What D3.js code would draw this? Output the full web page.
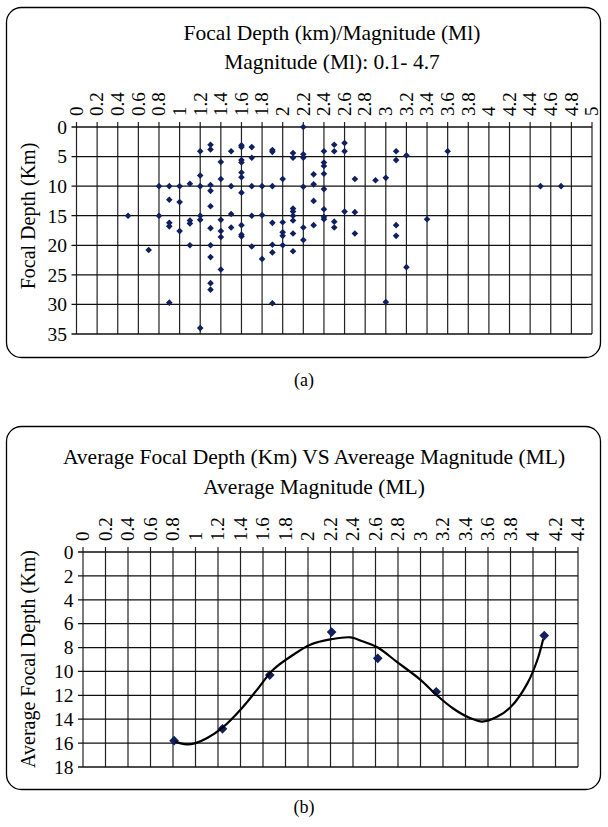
<!DOCTYPE html>
<html>
<head>
<meta charset="utf-8">
<script src="https://cdn.jsdelivr.net/npm/d3@7"></script>
<style>
  html, body { margin: 0; padding: 0; background: #fff; }
  svg text { font-family: "Liberation Serif", "Times New Roman", serif; fill: #000; }
</style>
</head>
<body>
<svg id="chart" width="608" height="827"></svg>
<script>
// (a) every event: magnitude (Ml) and focal depth (km)
const topMagnitude = [
  0.5, 0.7, 0.8, 0.8,
  0.9, 0.9, 0.9, 0.9, 0.9,
  1.0, 1.0, 1.0,
  1.1, 1.1, 1.1, 1.1,
  1.2, 1.2, 1.2, 1.2, 1.2, 1.2,
  1.3, 1.3, 1.3, 1.3, 1.3, 1.3, 1.3, 1.3, 1.3, 1.3,
  1.4, 1.4, 1.4, 1.4, 1.4, 1.4,
  1.5, 1.5, 1.5, 1.5,
  1.6, 1.6, 1.6, 1.6, 1.6, 1.6, 1.6, 1.6, 1.6, 1.6,
  1.7, 1.7, 1.7, 1.7, 1.7,
  1.8, 1.8, 1.8,
  1.9, 1.9, 1.9, 1.9, 1.9, 1.9, 1.9,
  2.0, 2.0, 2.0, 2.0, 2.0,
  2.1, 2.1, 2.1, 2.1, 2.1, 2.1, 2.1, 2.1,
  2.2, 2.2, 2.2, 2.2, 2.2, 2.2,
  2.3, 2.3, 2.3, 2.3,
  2.4, 2.4, 2.4, 2.4, 2.4, 2.4, 2.4, 2.4,
  2.5, 2.5, 2.5, 2.5,
  2.6, 2.6, 2.6,
  2.7, 2.7, 2.7,
  2.9, 3.0, 3.0,
  3.1, 3.1, 3.1, 3.1,
  3.2, 3.2, 3.4, 3.6, 4.5, 4.7
];
const topDepth = [
  15, 20.8, 10, 15,
  10, 12.3, 16.2, 16.8, 29.7,
  10, 12.7, 17.6,
  9.6, 15.8, 16.3, 20,
  4.1, 8.2, 10, 15, 15.7, 34,
  3.0, 3.8, 9.8, 10.8, 13.4, 17.1, 20, 22, 26.4, 27.5,
  5.9, 8.8, 15.7, 17.6, 18.6, 24.1,
  4.1, 10, 14.7, 17,
  3.1, 3.4, 5.6, 6.0, 7.7, 8.5, 11.1, 16.6, 18.2, 18.5,
  3.4, 5.2, 10, 15, 20.2,
  10, 14.9, 22.3,
  3.9, 4.2, 10, 16.2, 19.9, 21.2, 29.8,
  8.8, 16.1, 17.8, 18.4, 20,
  4.4, 5.2, 13.8, 14.3, 15, 15.8, 18.0, 21.0,
  0, 4.6, 5.2, 10.1, 17.0, 19.1,
  8.0, 9.7, 12.5, 16.6,
  4.1, 6.0, 6.6, 7.9, 10.5, 13.9, 15.2, 15.6,
  3.0, 4.1, 16.0, 17.0,
  2.7, 4.1, 14.3,
  8.8, 14.4, 18.0,
  9.0, 8.6, 29.6,
  4.1, 5.6, 16.6, 18.4,
  4.8, 23.7, 15.6, 4.1, 10, 10
];

// (b) averages per magnitude class
const avgMagnitude = [0.81, 1.24, 1.66, 2.21, 2.62, 3.14, 4.1];
const avgDepth = [15.8, 14.8, 10.3, 6.7, 8.9, 11.7, 7.0];

// (b) trend line
const trendMagnitude = [0.82, 0.92, 1.0, 1.1, 1.24, 1.4, 1.55, 1.69, 1.87, 2.02, 2.21, 2.38, 2.49, 2.62, 2.79, 3.0, 3.14, 3.29, 3.44, 3.55, 3.68, 3.81, 3.95, 4.04, 4.09];
const trendDepth = [15.9, 16.1, 16.0, 15.6, 14.7, 13.2, 11.5, 9.86, 8.6, 7.76, 7.3, 7.15, 7.5, 8.0, 9.2, 10.7, 11.95, 13.1, 13.9, 14.2, 13.8, 12.9, 11.0, 9.0, 7.3];

// tick values
const topXTicks = d3.range(0, 26).map(i => i * 0.2);
const topYTicks = [0, 5, 10, 15, 20, 25, 30, 35];
const botXTicks = d3.range(0, 23).map(i => i * 0.2);
const botYTicks = [0, 2, 4, 6, 8, 10, 12, 14, 16, 18];

const markColor = '#10205e';
const fmt = v => String(+v.toFixed(1));

const svg = d3.select('#chart');

function panel(opt)
{
    let g = svg.append('g');

    // rounded frame
    g.append('rect')
        .attr('x', 6.5).attr('y', opt.boxTop + 0.5)
        .attr('width', 594).attr('height', opt.boxH)
        .attr('rx', 15).attr('ry', 15)
        .attr('fill', 'none').attr('stroke', '#000').attr('stroke-width', 1.3);

    g.append('text')
        .attr('x', opt.titleX).attr('y', opt.titleY)
        .attr('text-anchor', 'middle').style('font-size', '21.5px')
        .text(opt.title);

    g.append('text')
        .attr('x', opt.titleX).attr('y', opt.subY)
        .attr('text-anchor', 'middle').style('font-size', '21.5px')
        .text(opt.subtitle);

    let x = d3.scaleLinear().domain(opt.xDomain).range(opt.xRange);
    let y = d3.scaleLinear().domain(opt.yDomain).range(opt.yRange);

    // grid
    g.append('g').selectAll('line').data(opt.xTicks).join('line')
        .attr('x1', d => x(d)).attr('x2', d => x(d))
        .attr('y1', y.range()[0] - 5).attr('y2', y.range()[1])
        .attr('stroke', '#222').attr('stroke-width', 1.2);

    g.append('g').selectAll('line').data(opt.yTicks).join('line')
        .attr('x1', x.range()[0] - 5).attr('x2', x.range()[1])
        .attr('y1', d => y(d)).attr('y2', d => y(d))
        .attr('stroke', '#111').attr('stroke-width', 1.3);

    // x tick labels (rotated)
    g.append('g').selectAll('text').data(opt.xTicks).join('text')
        .attr('transform', d => 'translate(' + x(d) + ',' + (y.range()[0] - 11) + ') rotate(-90)')
        .attr('dy', '0.33em')
        .style('font-size', '19px')
        .text(fmt);

    // y tick labels
    g.append('g').selectAll('text').data(opt.yTicks).join('text')
        .attr('x', x.range()[0] - 9.5).attr('y', d => y(d))
        .attr('dy', '0.35em').attr('text-anchor', 'end')
        .style('font-size', '19.5px')
        .text(d => d);

    // y axis title
    g.append('text')
        .attr('transform', 'translate(' + opt.yTitleX + ',' + opt.yTitleY + ') rotate(-90)')
        .attr('text-anchor', 'middle').attr('dy', '0.35em')
        .style('font-size', '20px')
        .text(opt.yTitle);

    // panel letter
    svg.append('text')
        .attr('x', 304).attr('y', opt.letterY)
        .attr('text-anchor', 'middle').style('font-size', '18px')
        .text(opt.letter);

    return {g: g, x: x, y: y};
}

// ---- (a) ----
let a = panel({
    boxTop: 7, boxH: 350,
    title: 'Focal Depth (km)/Magnitude (Ml)', titleX: 332, titleY: 40,
    subtitle: 'Magnitude (Ml): 0.1- 4.7', subY: 69,
    xDomain: [0, 5], xRange: [76.5, 592],
    yDomain: [0, 35], yRange: [127, 334],
    xTicks: topXTicks, yTicks: topYTicks,
    yTitle: 'Focal Depth (Km)', yTitleX: 28, yTitleY: 216,
    letter: '(a)', letterY: 386
});

a.g.append('g').selectAll('path').data(topMagnitude).join('path')
    .attr('d', d3.symbol(d3.symbolDiamond2, 28))
    .attr('transform', (d, i) => 'translate(' + a.x(d) + ',' + a.y(topDepth[i]) + ')')
    .attr('fill', markColor);

// ---- (b) ----
let b = panel({
    boxTop: 426, boxH: 363,
    title: 'Average Focal Depth (Km) VS Avereage Magnitude (ML)', titleX: 314, titleY: 464,
    subtitle: 'Average Magnitude (ML)', subY: 494,
    xDomain: [0, 4.4], xRange: [83, 578],
    yDomain: [0, 18], yRange: [552, 767],
    xTicks: botXTicks, yTicks: botYTicks,
    yTitle: 'Average Focal Depth (Km)', yTitleX: 28, yTitleY: 659,
    letter: '(b)', letterY: 813
});

b.g.append('g').selectAll('path').data(avgMagnitude).join('path')
    .attr('d', d3.symbol(d3.symbolDiamond2, 60))
    .attr('transform', (d, i) => 'translate(' + b.x(d) + ',' + b.y(avgDepth[i]) + ')')
    .attr('fill', markColor);

let trend = d3.line()
    .x((d, i) => b.x(d))
    .y((d, i) => b.y(trendDepth[i]))
    .curve(d3.curveCatmullRom);

b.g.append('path')
    .datum(trendMagnitude)
    .attr('d', trend)
    .attr('fill', 'none').attr('stroke', '#000').attr('stroke-width', 2.2);
</script>
</body>
</html>
